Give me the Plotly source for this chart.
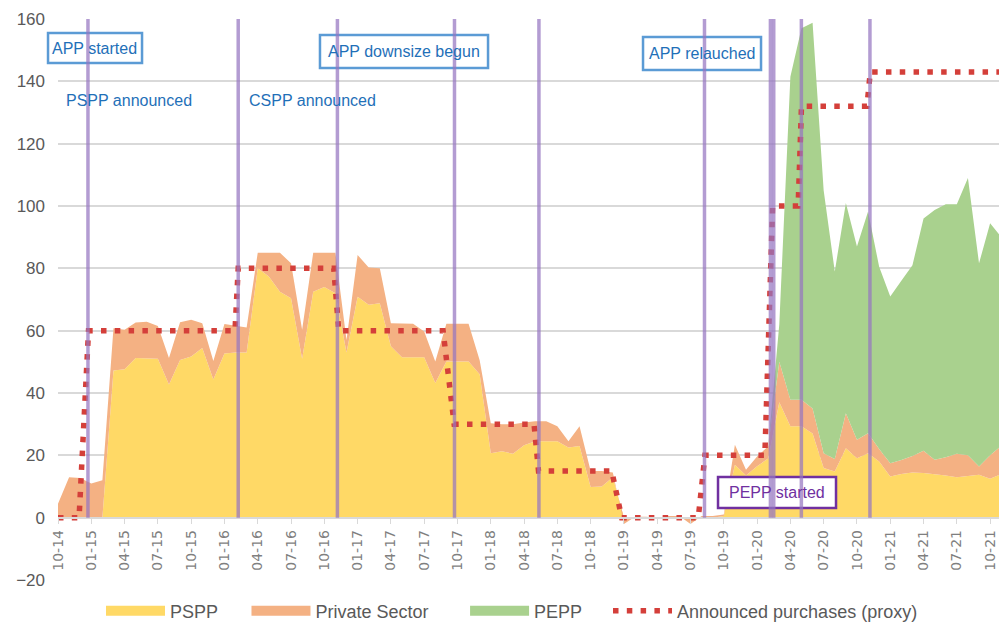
import plotly.graph_objects as go

# ---------------- data ----------------
months_idx = list(range(86))  # 10-14 ... 11-21 (monthly)
tick_labels = ["10-14", "01-15", "04-15", "07-15", "10-15", "01-16", "04-16", "07-16",
               "10-16", "01-17", "04-17", "07-17", "10-17", "01-18", "04-18", "07-18",
               "10-18", "01-19", "04-19", "07-19", "10-19", "01-20", "04-20", "07-20",
               "10-20", "01-21", "04-21", "07-21", "10-21"]
tick_pos = list(range(0, 85, 3))

pspp = [0, 0, 0, 0, 0, 47.2, 47.6, 51.2, 51.2, 51.0,
        42.7, 50.6, 51.7, 54.4, 44.3, 52.7, 53.0, 53.0, 80.0, 77.4,
        72.5, 70.4, 51.0, 72.5, 74.0, 72.0, 53.0, 70.9, 68.3, 68.8,
        55.0, 51.5, 51.5, 51.5, 43.2, 50.1, 50.1, 50.1, 46.0, 20.7,
        21.3, 20.5, 23.2, 24.5, 24.5, 24.5, 22.5, 23.0, 9.8, 10.0,
        13.0, 0, 0, 0, 0, 0, 0, 0, 0, 0,
        0.5, 17.0, 13.5, 16.5, 19.0, 37.0, 29.3, 29.3, 27.0, 15.9,
        14.8, 22.3, 19.1, 20.7, 18.0, 13.2, 14.0, 14.5, 14.3, 14.0,
        13.5, 13.0, 13.3, 13.8, 12.5, 14.0]
pspp_plus_private = [4.5, 13.0, 12.7, 11.0, 12.0, 60.8, 60.3, 62.6, 62.9, 61.5,
                     51.2, 62.7, 63.5, 62.4, 50.3, 62.1, 61.6, 61.0, 85.0, 85.0,
                     85.0, 81.6, 60.3, 85.0, 85.0, 85.0, 57.0, 84.3, 80.3, 80.0,
                     62.4, 62.2, 62.2, 59.7, 50.1, 62.2, 62.2, 62.2, 50.5, 30.3,
                     30.0, 30.0, 30.5, 30.9, 30.9, 29.3, 24.5, 29.3, 15.0, 15.0,
                     14.5, -2.0, 0.3, 0.3, 0, 0.5, 0.5, -2.0, 0.5, 0.5,
                     1.0, 23.4, 15.4, 19.6, 22.9, 50.0, 37.8, 37.8, 35.0, 20.7,
                     18.8, 33.5, 25.0, 27.1, 22.0, 17.5, 18.5, 19.8, 21.5, 18.6,
                     19.4, 20.5, 20.0, 16.4, 20.0, 23.0]
private_sector = [round(t - p, 2) for t, p in zip(pspp_plus_private, pspp)]
pepp = [0] * 65 + [12.0, 103.7, 119.2, 123.8, 84.3,
                   60.2, 67.5, 62.0, 71.1, 58.5, 53.5, 57.5, 61.2, 74.5, 80.1,
                   81.2, 80.1, 89.0, 65.2, 74.5, 67.0]

announced_x = [0, 1.9, 2.75, 15.95, 16.24, 24.85, 25.3, 34.7, 35.7, 42.9, 43.3,
               49.9, 50.8, 57.7, 58.3, 63.7, 64.4, 66.7, 67.0, 72.9, 73.2, 85]
announced_y = [0, 0, 60, 60, 80, 80, 60, 60, 30, 30, 15,
               15, 0, 0, 20, 20, 100, 100, 132, 132, 143, 143]

event_x = [2.70, 16.24, 25.18, 35.73, 43.34, 58.26, 64.2, 64.5, 66.99, 73.17]

# ---------------- styles ----------------
YELLOW = "#FFD966"
ORANGE = "#F4B183"
GREEN = "#A9D18E"
RED = "#D43F3A"
BLUE_TXT = "#1F70B8"
BLUE_BOX = "#5B9BD5"
PURPLE = "#7030A0"
GRID = "#D9D9D9"
SANS = "Liberation Sans, Arial, sans-serif"

fig = go.Figure()
fig.add_trace(go.Scatter(x=months_idx, y=pspp, name="PSPP", stackgroup="one",
                         mode="lines", line=dict(width=0), fillcolor=YELLOW,
                         showlegend=False, hoverinfo="skip"))
fig.add_trace(go.Scatter(x=months_idx, y=private_sector, name="Private Sector", stackgroup="one",
                         mode="lines", line=dict(width=0), fillcolor=ORANGE,
                         showlegend=False, hoverinfo="skip"))
fig.add_trace(go.Scatter(x=months_idx, y=pepp, name="PEPP", stackgroup="one",
                         mode="lines", line=dict(width=0), fillcolor=GREEN,
                         showlegend=False, hoverinfo="skip"))
fig.add_trace(go.Scatter(x=announced_x, y=announced_y, name="Announced purchases (proxy)",
                         mode="lines", line=dict(color=RED, width=5.5, dash="5.5px,8.3px"),
                         legend="legend4", showlegend=True, hoverinfo="skip"))

# legend-only entries (thick swatches like the original)
for nm, col, lg in [("PSPP", YELLOW, "legend"), ("Private Sector", ORANGE, "legend2"),
                    ("PEPP", GREEN, "legend3")]:
    fig.add_trace(go.Scatter(x=[None], y=[None], name=nm, mode="lines",
                             line=dict(color=col, width=12), legend=lg,
                             showlegend=True, hoverinfo="skip"))

shapes = []
# annotation boxes (paper coords)
boxes = [(-0.0106, 0.0893, 0.9216, 0.9750, BLUE_BOX),
         (0.2784, 0.4570, 0.9127, 0.9715, BLUE_BOX),
         (0.6217, 0.7471, 0.9091, 0.9679, BLUE_BOX),
         (0.7014, 0.8268, 0.1283, 0.1836, PURPLE)]
for x0, x1, y0, y1, c in boxes:
    shapes.append(dict(type="rect", xref="paper", yref="paper", x0=x0, x1=x1, y0=y0, y1=y1,
                       line=dict(color=c, width=2.5), fillcolor="white", layer="above"))
# event lines
for ex in event_x:
    shapes.append(dict(type="line", xref="x", yref="y", x0=ex, x1=ex, y0=0, y1=160,
                       line=dict(color="rgba(150,118,192,0.72)", width=3.5), layer="above"))

annotations = []
texts = [("APP started", 0.0393, 0.9483, "center", BLUE_TXT),
         ("APP downsize begun", 0.3677, 0.9421, "center", BLUE_TXT),
         ("APP relauched", 0.6844, 0.9385, "center", BLUE_TXT),
         ("PEPP started", 0.7641, 0.1560, "center", PURPLE),
         ("PSPP announced", 0.0074, 0.8556, "left", BLUE_TXT),
         ("CSPP announced", 0.2019, 0.8556, "left", BLUE_TXT)]
for t, x, y, xa, c in texts:
    annotations.append(dict(text=t, x=x, y=y, xref="paper", yref="paper", xanchor=xa,
                            yanchor="middle", showarrow=False, borderpad=0,
                            font=dict(family=SANS, size=16, color=c)))

legend_common = dict(orientation="h", yanchor="middle", y=-0.0553, xanchor="left",
                     font=dict(family=SANS, size=18, color="#595959"),
                     itemwidth=59, bgcolor="rgba(0,0,0,0)", borderwidth=0,
                     traceorder="normal")

fig.update_layout(
    width=999, height=624,
    margin=dict(l=58, r=0, t=19, b=44, autoexpand=False),
    plot_bgcolor="white", paper_bgcolor="white",
    showlegend=True,
    shapes=shapes, annotations=annotations,
    legend=dict(x=0.0457, **legend_common),
    legend2=dict(x=0.2003, **legend_common),
    legend3=dict(x=0.4326, **legend_common),
    legend4=dict(x=0.5845, **legend_common),
    xaxis=dict(range=[0, 84.8], tickvals=tick_pos, ticktext=tick_labels, tickangle=-90,
               anchor="free", position=20 / 180, showgrid=False, zeroline=False,
               showline=True, linecolor=GRID, linewidth=1.5, automargin=False,
               ticklabeloverflow="allow",
               ticks="outside", ticklen=6, tickcolor=GRID, tickwidth=1.2,
               tickfont=dict(family="DejaVu Sans, sans-serif", size=14, color="#7F7F7F")),
    yaxis=dict(range=[-20, 160], dtick=20, tick0=0, showgrid=True, gridcolor=GRID,
               gridwidth=1.5, zeroline=False, showline=False, automargin=False,
               ticklabelstandoff=12,
               tickfont=dict(family=SANS, size=17, color="#595959")),
    hovermode=False,
)

fig.write_html("out.html", config={"displayModeBar": False},
               post_script="document.body.style.margin='0';document.body.style.overflow='hidden';")
